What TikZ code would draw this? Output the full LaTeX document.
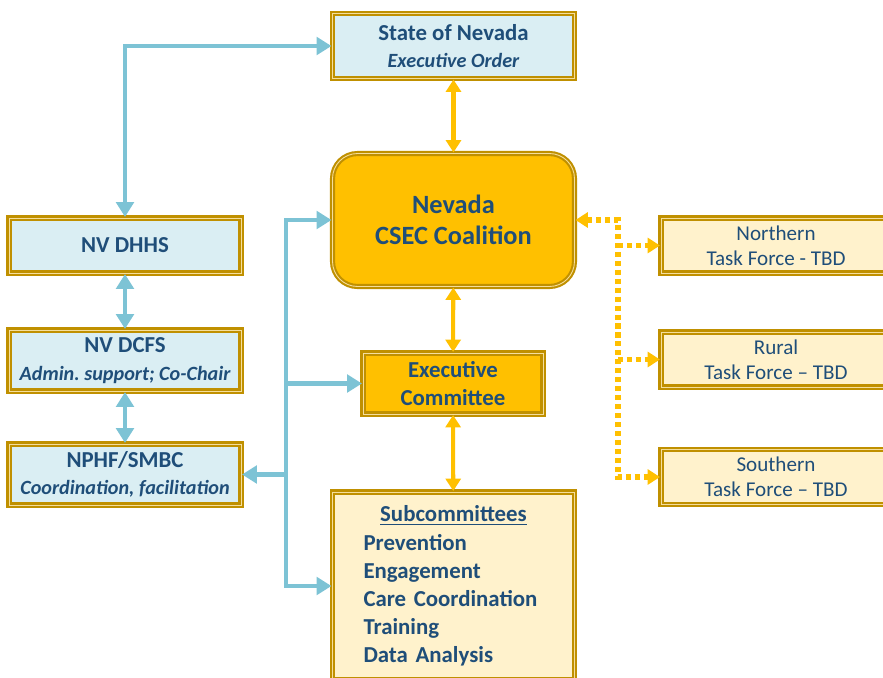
\documentclass[tikz,border=0pt]{standalone}
\usepackage{fontspec}
\setmainfont{Carlito}
\usepackage{xcolor}
\usepackage{tikz}
\usetikzlibrary{positioning, arrows.meta}
\frenchspacing

\definecolor{navytext}{HTML}{1F4E79}
\definecolor{aqualine}{HTML}{7DC3D5}
\definecolor{aquafill}{HTML}{DAEEF3}
\definecolor{goldfill}{HTML}{FFC000}
\definecolor{goldedge}{HTML}{C09000}
\definecolor{creamfill}{HTML}{FFF2CC}
\definecolor{paleedge}{HTML}{F5DE9C}

\newcommand{\subtextfont}{\bfseries\itshape\fontsize{11.5}{13}\selectfont}

\tikzset{
    orgbox/.style={rectangle, draw=goldedge, line width=1.2pt, double=paleedge,
        double distance=0.5pt, text=navytext, align=center, inner sep=0pt,
        font=\bfseries\fontsize{13}{15.5}\selectfont},
    bluebox/.style={orgbox, fill=aquafill, minimum width=4.64cm},
    taskbox/.style={orgbox, fill=creamfill, minimum width=4.6cm, minimum height=1.1cm,
        font=\mdseries\fontsize{12}{14}\selectfont},
    bluearrow/.style={draw=aqualine, line width=2.8pt,
        >={Triangle[width=10pt, length=8.5pt]}, ->},
    goldarrow/.style={draw=goldfill, line width=2.3pt,
        >={Triangle[width=8.5pt, length=7pt]}, <->},
    dotarrow/.style={draw=goldfill, line width=2.9pt, dash pattern=on 2.9pt off 2.2pt,
        >={Triangle[width=8.5pt, length=7pt]}, ->}
}

\begin{document}
\begin{tikzpicture}[x=0.02cm, y=-0.02cm]
    \useasboundingbox (0,0) rectangle (883,677);
    \clip (0,0) rectangle (883,677);
    % centre column
    \node[orgbox, fill=aquafill, minimum width=4.84cm, minimum height=1.3cm] (nv_state) at (453.5,46)
        {State of Nevada\\{\subtextfont Executive Order}};
    \node[orgbox, fill=goldfill, rounded corners=0.5cm, minimum width=4.84cm, minimum height=2.66cm,
        font=\bfseries\fontsize{15}{18}\selectfont] (nv_csec) at (453.5,220)
        {Nevada\\CSEC Coalition};
    \node[orgbox, fill=goldfill, minimum width=3.6cm, minimum height=1.22cm] (nv_exec) at (453,383.5)
        {Executive\\Committee};
    \node[orgbox, fill=creamfill, minimum width=4.84cm, minimum height=3.76cm, text width=3.6cm,
        inner xsep=0.62cm, align=left, font=\bfseries\fontsize{13}{16}\selectfont] (nv_subcom) at (453.5,586)
        {\makebox[3.6cm]{\underline{Subcommittees}}\\Prevention\\Engagement\\Care Coordination\\Training\\Data Analysis};
    % left column
    \node[bluebox, minimum height=1.1cm] (nv_dhhs) at (125,245.5) {NV DHHS};
    \node[bluebox, minimum height=1.22cm] (nv_dcfs) at (125,360.5)
        {NV DCFS\\{\subtextfont Admin. support; Co-Chair}};
    \node[bluebox, minimum height=1.22cm] (nv_nphf) at (125,474.5)
        {NPHF/SMBC\\{\subtextfont Coordination, facilitation}};
    % right column
    \node[taskbox] (nv_north) at (776,245.5) {Northern\\Task Force - TBD};
    \node[taskbox] (nv_rural) at (776,359.5) {Rural\\Task Force -- TBD};
    \node[taskbox] (nv_south) at (776,477) {Southern\\Task Force -- TBD};
    % gold links
    \draw[goldarrow] (nv_state) -- (nv_csec);
    \draw[goldarrow] (nv_csec) -- (nv_exec);
    \draw[goldarrow] (nv_exec) -- (nv_subcom);
    % blue links
    \draw[bluearrow, <->] (nv_dhhs.north) |- (nv_state.west);
    \draw[bluearrow, <->] (nv_dhhs) -- (nv_dcfs);
    \draw[bluearrow, <->] (nv_dcfs) -- (nv_nphf);
    \coordinate (trunk_top) at (286,220);
    \coordinate (trunk_bot) at (trunk_top |- nv_subcom.west);
    \draw[bluearrow] (trunk_bot) -- (trunk_top) -- (nv_csec.west);
    \draw[bluearrow] (trunk_top) -- (trunk_bot) -- (nv_subcom.west);
    \draw[bluearrow] (trunk_top |- nv_exec.west) -- (nv_exec.west);
    \draw[bluearrow] (trunk_top |- nv_nphf.east) -- (nv_nphf.east);
    % dotted task force links
    \coordinate (dot_top) at (618,220);
    \draw[dotarrow, <->] (nv_csec.east) -- (dot_top) |- (nv_south.west);
    \draw[dotarrow] (dot_top |- nv_north.west) -- (nv_north.west);
    \draw[dotarrow] (dot_top |- nv_rural.west) -- (nv_rural.west);
\end{tikzpicture}
\end{document}
